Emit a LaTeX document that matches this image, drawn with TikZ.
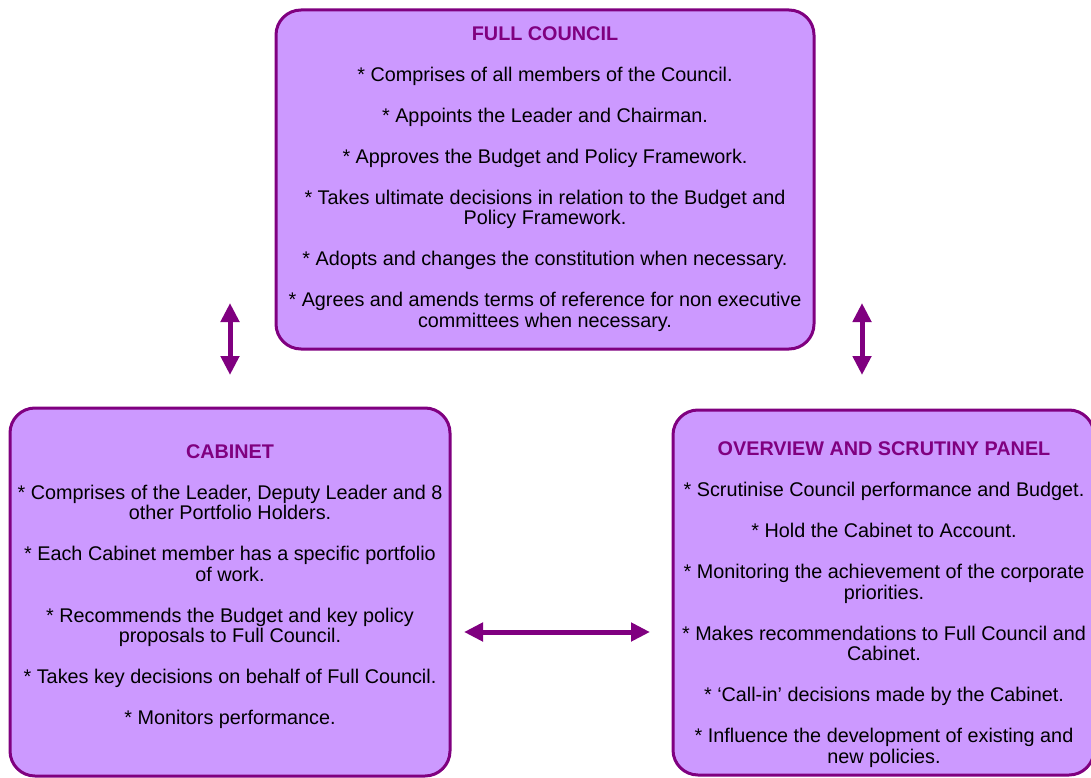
\documentclass[tikz,border=0pt]{standalone}
\usepackage{fontspec}
\setmainfont{Liberation Sans}
\usetikzlibrary{arrows.meta}
\definecolor{boxfill}{HTML}{CC99FF}
\definecolor{boxline}{HTML}{800080}
\newcommand{\hd}[1]{\strut\textbf{\color{boxline}#1}}
\tikzset{
  panel/.style={draw=boxline, fill=boxfill, line width=3pt, rounded corners=25pt, inner sep=0pt, rectangle},
  paneltext/.style={anchor=north, align=center, inner sep=0pt, text=black, font=\fontsize{19.8}{20.5}\selectfont},
  dblarrow/.style={draw=boxline, line width=5pt, {Triangle[length=19pt,width=18pt]}-{Triangle[length=19pt,width=18pt]}}
}
\begin{document}
\begin{tikzpicture}[x=1pt, y=-1pt]
\useasboundingbox (0,0) rectangle (1091,778);
% panels
\node[panel, minimum width=538pt, minimum height=339pt] (fc) at (545,179.5) {};
\node[panel, minimum width=440pt, minimum height=368pt] (cab) at (230,592) {};
\node[panel, minimum width=421pt, minimum height=365pt] (osp) at (883.5,592.5) {};
% texts
\node[paneltext] (fctext) at (545,25.5) {\hd{FULL COUNCIL}\\[20.5pt]
* Comprises of all members of the Council.\\[20.5pt]
* Appoints the Leader and Chairman.\\[20.5pt]
* Approves the Budget and Policy Framework.\\[20.5pt]
* Takes ultimate decisions in relation to the Budget and\\ Policy Framework.\\[20.5pt]
* Adopts and changes the constitution when necessary.\\[20.5pt]
* Agrees and amends terms of reference for non executive\\ committees when necessary.};
\node[paneltext] (cabtext) at (230,443.6) {\hd{CABINET}\\[20.5pt]
* Comprises of the Leader, Deputy Leader and 8\\ other Portfolio Holders.\\[20.5pt]
* Each Cabinet member has a specific portfolio\\ of work.\\[20.5pt]
* Recommends the Budget and key policy\\ proposals to Full Council.\\[20.5pt]
* Takes key decisions on behalf of Full Council.\\[20.5pt]
* Monitors performance.};
\node[paneltext] (osptext) at (884,441.3) {\hd{OVERVIEW AND SCRUTINY PANEL}\\[20.5pt]
* Scrutinise Council performance and Budget.\\[20.5pt]
* Hold the Cabinet to Account.\\[20.5pt]
* Monitoring the achievement of the corporate\\ priorities.\\[20.5pt]
* Makes recommendations to Full Council and\\ Cabinet.\\[20.5pt]
* ‘Call-in’ decisions made by the Cabinet.\\[20.5pt]
* Influence the development of existing and\\ new policies.};
% arrows
\coordinate (la1) at (230,303);
\coordinate (la2) at (230,375);
\coordinate (ra1) at (862,303);
\coordinate (ra2) at (862,375);
\coordinate (ha1) at (464,632);
\coordinate (ha2) at (650,632);
\draw[dblarrow] (la1) -- (la2);
\draw[dblarrow] (ra1) -- (ra2);
\draw[dblarrow] (ha1) -- (ha2);
\end{tikzpicture}
\end{document}
